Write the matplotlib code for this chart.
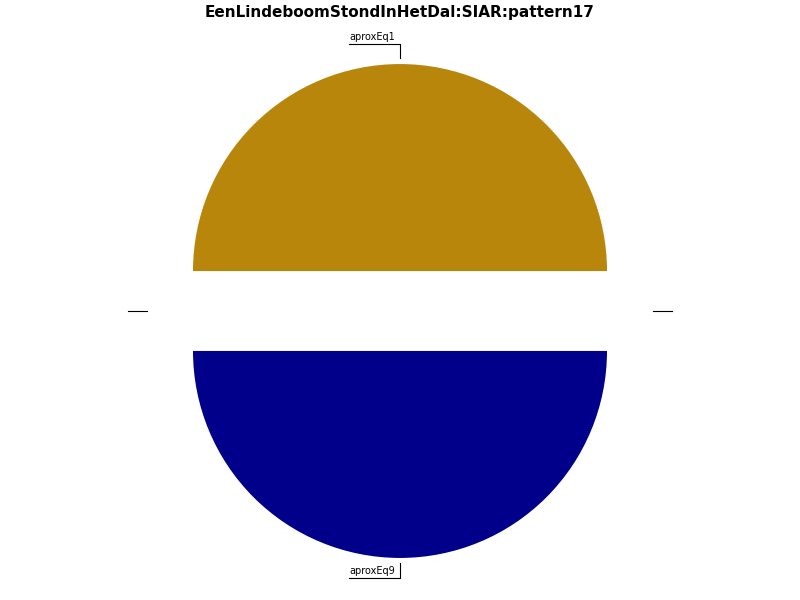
import matplotlib
matplotlib.use("Agg")
import matplotlib.pyplot as plt

labels = ["aproxEq1", "aproxEq9"]
values = [50, 50]
colors = ["#B8860B", "#00008B"]
explode = [0.193, 0.193]

fig = plt.figure(figsize=(8, 6), dpi=100)
ax = fig.add_axes([0, 0, 1, 1])
ax.pie(values, colors=colors, explode=explode, startangle=0, radius=1.0,
       center=(0, 0), frame=True)
ax.set_xlim(-400 / 207, 400 / 207)
ax.set_ylim(-289 / 207, 311 / 207)
ax.set_aspect("equal")
ax.axis("off")

# label leader lines
lc = dict(color="black", lw=0.8)
ax.plot([0, 0, -0.246], [1.222, 1.29, 1.29], **lc)
ax.text(-0.246, 1.30, labels[0], ha="left", va="bottom", fontsize=7)
ax.plot([0, 0, -0.246], [-1.217, -1.29, -1.29], **lc)
ax.text(-0.246, -1.28, labels[1], ha="left", va="bottom", fontsize=7)
ax.plot([-1.314, -1.222], [0, 0], **lc)
ax.plot([1.222, 1.314], [0, 0], **lc)

fig.text(0.5, 1 - 13 / 600, "EenLindeboomStondInHetDal:SIAR:pattern17",
         ha="center", va="center", fontsize=11, fontweight="bold")
fig.savefig("out.png", dpi=100)
